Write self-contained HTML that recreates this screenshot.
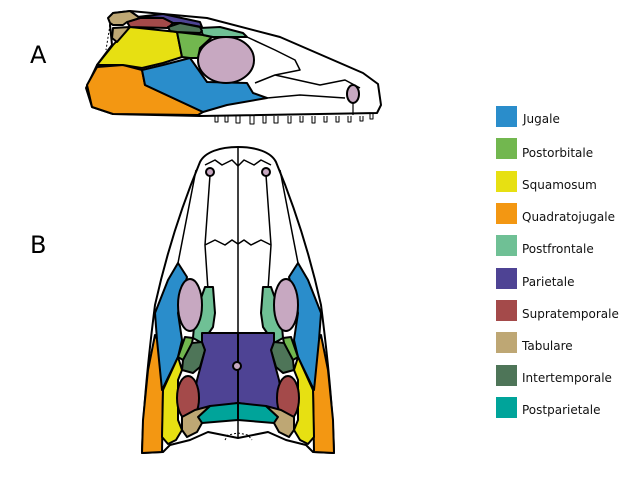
<!DOCTYPE html>
<html><head><meta charset="utf-8"><style>
html,body{margin:0;padding:0;background:#fff;width:629px;height:487px;overflow:hidden}
svg{display:block}
text{font-family:"DejaVu Sans","Liberation Sans",sans-serif}
</style></head><body>
<svg width="629" height="487" viewBox="0 0 629 487" xmlns="http://www.w3.org/2000/svg">
<g stroke="#000" stroke-width="2" stroke-linejoin="round">
<!-- Skull A -->
<path d="M110,25 L113,13 L130,11 L207,18 L280,37 L363,73 L378,84 L381,105 L377,113 L200,116 L113,114 L92,107 L86,88 L97,65 L112,45 Z" fill="#fff"/>
<path d="M87,85 L97,67 L123,65 L142,70 L145,85 L203,112 L198,115 L113,114 L92,107 Z" fill="#f39712"/>
<path d="M142,70 L163,65 L190,58 L200,72 L207,82 L247,83 L253,93 L267,98 L227,105 L203,112 L145,85 Z" fill="#2a8dcb"/>
<path d="M97,65 L113,45 L130,27 L177,32 L182,57 L163,63 L142,68 L123,65 Z" fill="#e7e012"/>
<path d="M177,32 L203,35 L212,37 L200,48 L198,58 L190,58 L182,57 Z" fill="#72b74f"/>
<path d="M200,28 L220,27 L243,33 L247,37 L213,37 L203,35 Z" fill="#6fc095"/>
<path d="M137,17 L163,14 L200,22 L202,27 L180,23 L173,23 L163,18 Z" fill="#4e4394"/>
<path d="M127,22 L140,18 L163,18 L173,23 L168,28 L130,27 Z" fill="#a44a4a"/>
<path d="M168,27 L180,23 L200,27 L202,31 L200,33 L177,32 L170,31 Z" fill="#4e7558"/>
<path d="M108,18 L113,13 L130,11 L140,18 L127,22 L123,25 L113,25 L110,23 Z" fill="#bea774"/>
<path d="M113,28 L130,27 L117,42 L112,38 Z" fill="#bea774"/>
<ellipse cx="226" cy="60" rx="28" ry="23" fill="#c7a8c1"/>
<path d="M247,37 L275,50 L295,60 L300,70 L275,75 L255,83 M275,75 L320,85 L345,80 L360,88 M267,98 L300,95 L345,98" fill="none" stroke-width="1.5"/>
<ellipse cx="353" cy="94" rx="6" ry="9" fill="#c7a8c1"/>
<path d="M353,103 L353,115" fill="none" stroke-width="1.2"/>
<path d="M110,25 L106,50" fill="none" stroke-dasharray="2,2" stroke-width="1"/>
<g fill="none" stroke-width="1">
<path d="M215,116 v6 h3 v-6 M225,116 v6 h3 v-6 M236,116 v7 h4 v-7 M250,116 v8 h4 v-8 M263,116 v7 h3 v-7 M274,116 v7 h4 v-7 M288,116 v7 h3 v-7 M300,116 v6 h3 v-6 M312,116 v7 h3 v-7 M324,116 v6 h3 v-6 M336,116 v6 h3 v-6 M348,116 v6 h3 v-6 M360,116 v5 h3 v-5 M370,114 v5 h3 v-5"/>
</g>

<!-- Skull B -->
<path d="M238,147 C220,147 205,152 200,162 C180,210 165,260 155,305 C148,360 143,410 142,453 L163,452 L170,445 L190,440 L208,432 L238,438 L268,432 L286,440 L306,445 L313,452 L334,453 C333,410 328,360 321,305 C311,260 296,210 276,162 C271,152 256,147 238,147 Z" fill="#fff"/>
<path d="M238,147 L238,438" fill="none" stroke-width="1.5"/>
<path d="M205,165 L215,160 L222,165 L232,160 L238,166 L244,160 L254,165 L261,160 L271,165 M205,245 L215,240 L225,245 L232,240 L238,244 L244,240 L251,245 L261,240 L271,245 M210,175 L205,245 L208,290 M266,175 L271,245 L268,290 M196,170 L178,263 M280,170 L298,263" fill="none" stroke-width="1.5"/>
<g id="half">
<path d="M155,335 L160,345 L163,390 L162,452 L142,453 L143,420 L148,370 Z" fill="#f39712"/>
<path d="M178,263 L187,277 L185,285 L178,313 L182,340 L178,357 L162,390 L157,340 L155,313 L168,280 Z" fill="#2a8dcb"/>
<path d="M205,287 L213,287 L215,313 L213,327 L202,343 L193,338 L195,315 Z" fill="#6fc095"/>
<path d="M185,337 L193,338 L190,353 L183,360 L178,357 Z" fill="#72b74f"/>
<path d="M192,343 L202,342 L205,350 L200,367 L193,373 L182,370 L183,360 Z" fill="#4e7558"/>
<path d="M178,357 L182,370 L178,380 L178,420 L182,430 L176,440 L168,444 L162,437 L163,390 Z" fill="#e7e012"/>
<path d="M202,333 L238,333 L238,403 L210,407 L190,417 L197,380 L205,350 L202,342 Z" fill="#4e4394"/>
<ellipse cx="188" cy="398" rx="11" ry="22" fill="#a44a4a"/>
<path d="M210,406 L238,403 L238,420 L202,423 L198,417 Z" fill="#00a49a"/>
<path d="M182,417 L195,410 L210,406 L198,417 L202,423 L197,432 L187,437 L182,430 Z" fill="#bea774"/>
<ellipse cx="190" cy="305" rx="12" ry="26" fill="#c7a8c1"/>
<circle cx="210" cy="172" r="4" fill="#c7a8c1"/>
</g>
<use href="#half" transform="translate(476,0) scale(-1,1)"/>
<circle cx="237" cy="366" r="4" fill="#c7a8c1"/>
<path d="M225,440 L228,435 L238,433 L248,435 L252,440" fill="none" stroke-dasharray="2,2" stroke-width="1"/>
</g>

<text x="30" y="63" font-size="24">A</text>
<text x="30" y="253" font-size="24">B</text>

<g stroke="none">
<rect x="496" y="106" width="21" height="21" fill="#2a8dcb"/>
<rect x="496" y="138" width="21" height="21" fill="#72b74f"/>
<rect x="496" y="171" width="21" height="21" fill="#e7e012"/>
<rect x="496" y="203" width="21" height="21" fill="#f39712"/>
<rect x="496" y="235" width="21" height="21" fill="#6fc095"/>
<rect x="496" y="268" width="21" height="21" fill="#4e4394"/>
<rect x="496" y="300" width="21" height="21" fill="#a44a4a"/>
<rect x="496" y="332" width="21" height="21" fill="#bea774"/>
<rect x="496" y="365" width="21" height="21" fill="#4e7558"/>
<rect x="496" y="397" width="21" height="21" fill="#00a49a"/>
</g>
<g font-size="12" fill="#111">
<text x="523" y="123">Jugale</text>
<text x="522" y="157">Postorbitale</text>
<text x="522" y="189">Squamosum</text>
<text x="522" y="221">Quadratojugale</text>
<text x="522" y="253">Postfrontale</text>
<text x="522" y="286">Parietale</text>
<text x="522" y="318">Supratemporale</text>
<text x="522" y="350">Tabulare</text>
<text x="522" y="382">Intertemporale</text>
<text x="522" y="414">Postparietale</text>
</g>
</svg>
</body></html>
